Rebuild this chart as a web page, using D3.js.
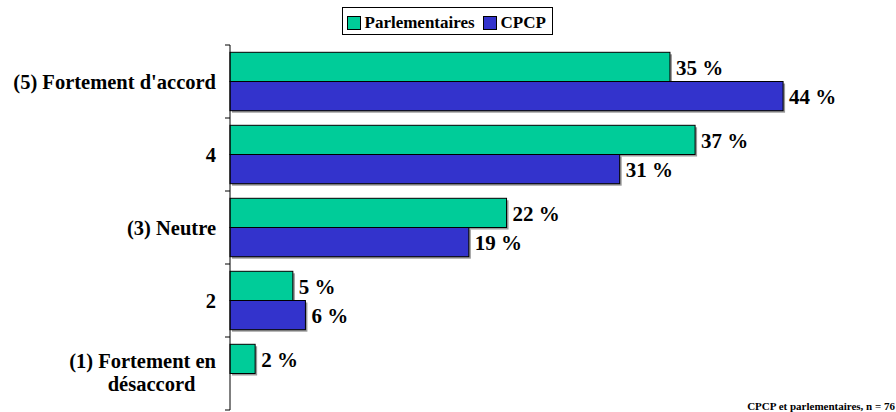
<!DOCTYPE html>
<html>
<head>
<meta charset="utf-8">
<script src="https://cdn.jsdelivr.net/npm/d3@7.9.0/dist/d3.min.js"></script>
<style>
  body { margin: 0; background: #fff; }
  svg { display: block; font-family: "Liberation Serif", "Times New Roman", serif; font-weight: bold; }
</style>
</head>
<body>
<svg id="chart" width="896" height="412"></svg>
<script>
// ---------- data ----------
const categories = ["(5) Fortement d'accord", "4", "(3) Neutre", "2", "(1) Fortement en|désaccord"];
const seriesNames = ["Parlementaires", "CPCP"];
const parlementaires = [35, 37, 22, 5, 2];
const cpcp = [44, 31, 19, 6, null];
const colors = ["#00CC99", "#3333CC"];

const svg = d3.select("#chart");
const x0 = 230, yTop = 45, yBottom = 410;

const x = d3.scaleLinear().domain([0, 50]).range([x0, x0 + 50 * 12.57]);
const y = d3.scaleBand().domain(categories).range([yTop, yBottom]).paddingInner(0.2).paddingOuter(0.1);
const ySub = d3.scaleBand().domain(seriesNames).range([0, y.bandwidth()]);

const rows = categories.map((c, i) => ({ cat: c, vals: [parlementaires[i], cpcp[i]] }));

const g = svg.append("g");
rows.forEach(r => {
  r.vals.forEach((v, j) => {
    if (v == null) return;
    const yy = y(r.cat) + ySub(seriesNames[j]);
    // shadow
    g.append("rect")
      .attr("x", x(0) + 2).attr("y", yy + 2)
      .attr("width", x(v) - x(0)).attr("height", ySub.bandwidth())
      .attr("fill", "#999");
    g.append("rect")
      .attr("x", x(0)).attr("y", yy)
      .attr("width", x(v) - x(0)).attr("height", ySub.bandwidth())
      .attr("fill", colors[j]).attr("stroke", "#000").attr("stroke-width", 1);
    g.append("text")
      .attr("x", x(v) + 6).attr("y", yy + ySub.bandwidth() / 2 + 1)
      .attr("dy", "0.35em")
      .attr("font-size", 21)
      .text(v + " %");
  });
});

// axis line and ticks at band boundaries
svg.append("line").attr("x1", x0).attr("x2", x0).attr("y1", yTop).attr("y2", yBottom)
  .attr("stroke", "#000");
const step = (yBottom - yTop) / categories.length;
d3.range(categories.length + 1).forEach(i => {
  svg.append("line").attr("x1", x0 - 5).attr("x2", x0)
    .attr("y1", yTop + i * step).attr("y2", yTop + i * step).attr("stroke", "#000");
});

// category labels
const labelSize = 20.5;
categories.forEach(c => {
  const lines = c.split("|");
  const cy = y(c) + y.bandwidth() / 2;
  if (lines.length === 1) {
    svg.append("text").attr("text-anchor", "end").attr("font-size", labelSize)
      .attr("x", 216).attr("y", cy).attr("dy", "0.35em").text(c);
  } else {
    const first = svg.append("text").attr("text-anchor", "end").attr("font-size", labelSize)
      .attr("x", 216).attr("y", cy - 13).attr("dy", "0.35em").text(lines[0]);
    const w = first.node().getComputedTextLength();
    svg.append("text").attr("text-anchor", "middle").attr("font-size", labelSize)
      .attr("x", 216 - w / 2 + 9).attr("y", cy + 10).attr("dy", "0.35em").text(lines[1]);
  }
});

// legend
const lg = svg.append("g");
lg.append("rect").attr("x", 342.5).attr("y", 7.5).attr("width", 210).attr("height", 27)
  .attr("fill", "#fff").attr("stroke", "#000");
const legX = [347.5, 483.5];
seriesNames.forEach((n, j) => {
  lg.append("rect").attr("x", legX[j]).attr("y", 16.5).attr("width", 13).attr("height", 13)
    .attr("fill", colors[j]).attr("stroke", "#000");
  lg.append("text").attr("x", legX[j] + 17).attr("y", 22.5).attr("dy", "0.35em")
    .attr("font-size", 17).text(n);
});

// footnote
svg.append("text").attr("x", 895).attr("y", 410).attr("text-anchor", "end")
  .attr("font-size", 11).text("CPCP et parlementaires, n = 76");
</script>
</body>
</html>
